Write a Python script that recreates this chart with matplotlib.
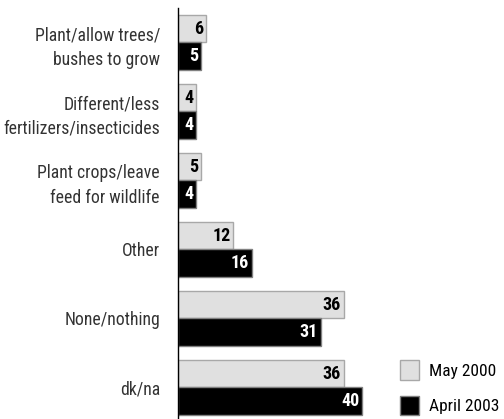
import matplotlib.pyplot as plt
import matplotlib.patches as mpatches
from matplotlib import font_manager

categories = ['Plant/allow trees/\nbushes to grow',
              'Different/less\nfertilizers/insecticides',
              'Plant crops/leave\nfeed for wildlife',
              'Other',
              'None/nothing',
              'dk/na']
may_2000 = [6, 4, 5, 12, 36, 36]
april_2003 = [5, 4, 4, 16, 31, 40]
series_names = ['May 2000', 'April 2003']

# condensed font, first one that is installed
names = {f.name for f in font_manager.fontManager.ttflist}
font = 'DejaVu Sans'
for cand in ['Roboto Condensed', 'Archivo Narrow', 'Pragati Narrow', 'Barlow Semi Condensed']:
    if cand in names:
        font = cand
        break
plt.rcParams['font.family'] = [font, 'DejaVu Sans']

fig = plt.figure(figsize=(5.04, 4.19), dpi=100)
ax = fig.add_axes([178 / 504, 0, 1 - 178 / 504, 1 - 8 / 419])

h = 0.4
ypos = list(range(len(categories)))
gray = '#e0e0e0'
for i, (a, b) in enumerate(zip(may_2000, april_2003)):
    ax.barh(i - h / 2, a, height=h, color=gray, edgecolor='#a8a8a8', linewidth=1)
    ax.barh(i + h / 2, b, height=h, color='black', edgecolor='#808080', linewidth=1)
    ax.text(a - 0.6, i - h / 2, str(a), ha='right', va='center',
            fontsize=13, fontweight='bold', color='black')
    ax.text(b - 0.6, i + h / 2, str(b), ha='right', va='center',
            fontsize=13, fontweight='bold', color='white')

ax.set_xlim(0, 326 / 4.6)
ax.set_ylim(5.457, -0.5)
ax.set_yticks(ypos)
ax.set_yticklabels(categories, fontsize=12.7, color='#333333', linespacing=1.45)
ax.tick_params(axis='y', length=0, pad=13)
ax.set_xticks([])
for s in ['top', 'right', 'bottom']:
    ax.spines[s].set_visible(False)
ax.spines['left'].set_linewidth(1)

handles = [mpatches.Patch(facecolor=gray, edgecolor='#a8a8a8', label=series_names[0]),
           mpatches.Patch(facecolor='black', edgecolor='#808080', label=series_names[1])]
ax.legend(handles=handles, loc='lower left', bbox_to_anchor=(0.645, -0.02),
          frameon=False, fontsize=12.5, handlelength=1.05, handleheight=1.35,
          labelspacing=0.9, handletextpad=0.6, borderpad=0.2)

fig.savefig('out.png', dpi=100)
